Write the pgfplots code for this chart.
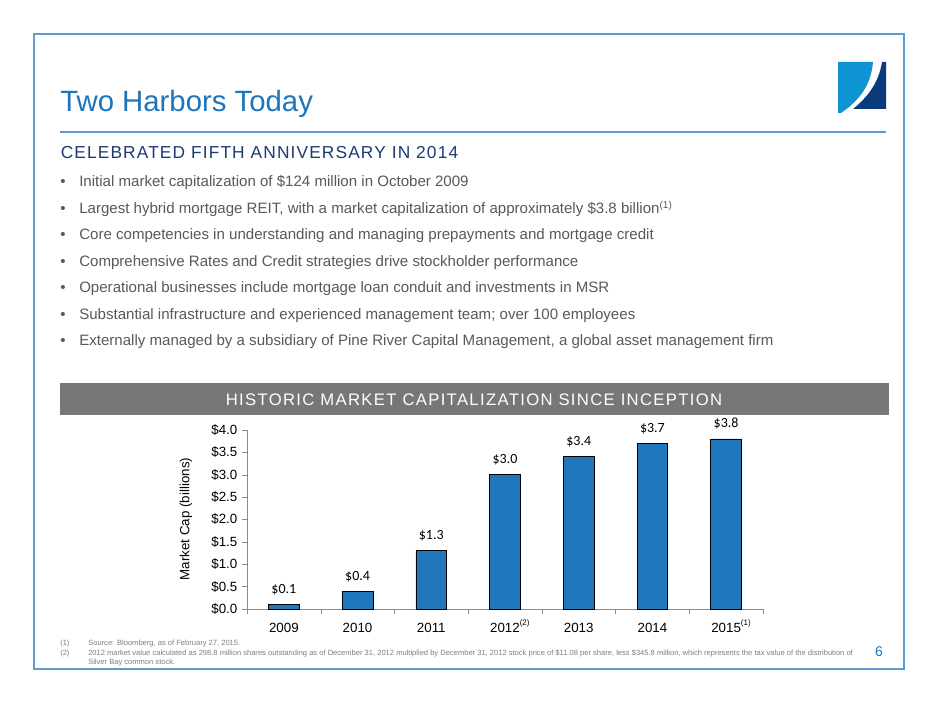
\documentclass[border=0pt]{standalone}
\usepackage{pgfplots}
\pgfplotsset{compat=1.18}
\usepackage{fontspec}
\setmainfont{Liberation Sans}
\newfontfamily\carlito{Carlito}
\newfontfamily\headfont[LetterSpace=6.5]{Liberation Sans}
\newfontfamily\bannerfont[LetterSpace=8]{Liberation Sans}

\definecolor{framebl}{HTML}{5B9BD5}
\definecolor{titlebl}{HTML}{1C75BC}
\definecolor{navy}{HTML}{1F3A73}
\definecolor{bodygray}{HTML}{595959}
\definecolor{bannergray}{HTML}{777777}
\definecolor{barblue}{HTML}{1F77BE}
\definecolor{logolight}{HTML}{0E93D3}
\definecolor{logodark}{HTML}{0B3B7C}
\definecolor{axisgray}{HTML}{8C8C8C}
\definecolor{notegray}{HTML}{7F7F7F}

\pgfplotstableread{
x  y
0  0.1
1  0.4
2  1.3
3  3.0
4  3.4
5  3.7
6  3.8
}\capdata

\newcommand{\note}[1]{\rlap{\smash{\raisebox{5pt}{\fontsize{6}{7}\selectfont#1}}}}

\begin{document}
\begin{tikzpicture}[x=0.75pt,y=0.75pt]
\useasboundingbox (0,0) rectangle (940,705);
\fill[white] (0,0) rectangle (940,705);

% slide frame and title
\draw[framebl,line width=1.5pt] (34,705-34) rectangle (904,705-669);
\node[anchor=base west,inner sep=0,text=titlebl,font=\fontsize{22}{24}\selectfont] at (60,705-112) {Two Harbors Today};
\draw[framebl,line width=1.2pt] (60,705-132) -- (886,705-132);

% logo
\fill[logolight] (838,705-62) -- (873,705-62) .. controls (871,705-85) and (860,705-100) .. (841,705-113) -- (838,705-113) -- cycle;
\fill[logodark] (882,705-62) -- (886,705-62) -- (886,705-109) -- (853,705-109) .. controls (868,705-97) and (879,705-82) .. (882,705-62) -- cycle;

% heading and bullets
\node[anchor=base west,inner sep=0,text=navy,font=\headfont\fontsize{13}{15}\selectfont] at (60.5,705-158.5) {CELEBRATED FIFTH ANNIVERSARY IN 2014};
\foreach \t [count=\i from 0] in {
  {Initial market capitalization of \$124 million in October 2009},
  {Largest hybrid mortgage REIT, with a market capitalization of approximately \$3.8 billion\raisebox{3.5pt}{\fontsize{7.5}{8}\selectfont(1)}},
  {Core competencies in understanding and managing prepayments and mortgage credit},
  {Comprehensive Rates and Credit strategies drive stockholder performance},
  {Operational businesses include mortgage loan conduit and investments in MSR},
  {Substantial infrastructure and experienced management team; over 100 employees},
  {Externally managed by a subsidiary of Pine River Capital Management, a global asset management firm}} {
  \node[anchor=base west,inner sep=0,text=bodygray,font=\fontsize{11.3}{13}\selectfont] at (60,705-186.7-26.5*\i) {\textbullet};
  \node[anchor=base west,inner sep=0,text=bodygray,font=\fontsize{11.3}{13}\selectfont] at (79,705-186.7-26.5*\i) {\t};
}

% banner
\fill[bannergray] (60,705-383) rectangle (889,705-415);
\node[anchor=base,inner sep=0,text=white,font=\bannerfont\fontsize{12.5}{14}\selectfont] at (474,705-406) {HISTORIC MARKET CAPITALIZATION SINCE INCEPTION};

% chart
\begin{axis}[
  at={(185.25pt,72pt)}, anchor=south west,
  scale only axis, width=387pt, height=134.25pt,
  xmin=-0.5, xmax=6.5, ymin=0, ymax=4,
  axis lines*=left,
  axis line style={axisgray},
  ybar, bar width=23pt,
  xtick={0,...,6},
  xticklabels={2009,2010,2011,2012\note{(2)},2013,2014,2015\note{(1)}},
  minor xtick={-0.5,0.5,...,6.5},
  major x tick style={draw=none},
  minor x tick style={axisgray},
  ytick={0,0.5,...,4},
  yticklabels={\$0.0,\$0.5,\$1.0,\$1.5,\$2.0,\$2.5,\$3.0,\$3.5,\$4.0},
  y tick style={axisgray},
  tick align=outside,
  major tick length=3.75pt, minor tick length=3.75pt,
  tick label style={font=\fontsize{10}{12}\selectfont, text=black},
  xticklabel style={yshift=-3pt},
  /pgf/number format/assume math mode=true,
  nodes near coords={\$\pgfmathprintnumber[fixed,fixed zerofill,precision=1]{\pgfplotspointmeta}},
  every node near coord/.append style={font=\carlito\fontsize{10.5}{12}\selectfont, text=black, yshift=3.5pt},
  clip=false,
]
\addplot[fill=barblue, draw=black, line width=0.6pt] table[x=x,y=y] {\capdata};
\end{axis}
\node[rotate=90,font=\fontsize{10}{12}\selectfont] at (186,705-519) {Market Cap (billions)};

% footnotes
\begin{scope}[every node/.style={anchor=base west,inner sep=0,text=notegray,font=\fontsize{5.67}{6.5}\selectfont}]
\node at (60,705-646) {(1)};
\node at (88,705-646) {Source: Bloomberg, as of February 27, 2015.};
\node at (60,705-656) {(2)};
\node at (88,705-656) {2012 market value calculated as 298.8 million shares outstanding as of December 31, 2012 multiplied by December 31, 2012 stock price of \$11.08 per share, less \$345.8 million, which represents the tax value of the distribution of};
\node at (88,705-665) {Silver Bay common stock.};
\end{scope}
\node[anchor=base,inner sep=0,text=titlebl,font=\fontsize{10.5}{12}\selectfont] at (879,705-657) {6};
\end{tikzpicture}
\end{document}
